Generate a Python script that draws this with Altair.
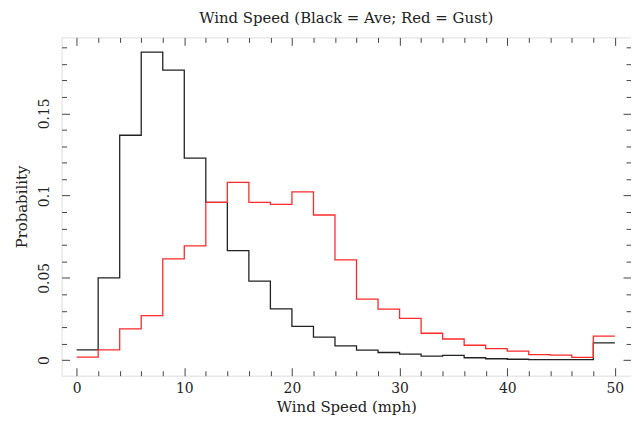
import altair as alt
import pandas as pd

bin_edges = list(range(0, 50, 2))  # 0..48
ave = [0.0062, 0.0500, 0.1367, 0.1872, 0.1763, 0.1228, 0.0959, 0.0665, 0.0480, 0.0311,
       0.0205, 0.0140, 0.0086, 0.0060, 0.0046, 0.0036, 0.0024, 0.0028, 0.0014, 0.0008,
       0.0005, 0.0003, 0.0003, 0.0003, 0.0104]
gust = [0.0018, 0.0062, 0.0190, 0.0270, 0.0615, 0.0694, 0.0959, 0.1080, 0.0959, 0.0947,
        0.1023, 0.0882, 0.0609, 0.0370, 0.0310, 0.0253, 0.0163, 0.0128, 0.0090, 0.0070,
        0.0054, 0.0033, 0.0030, 0.0016, 0.0145]
x_major = [0, 10, 20, 30, 40, 50]
x_minor = [v for v in range(0, 51, 2) if v % 10]
y_major = [0, 0.05, 0.1, 0.15]
y_minor = [round(v * 0.01, 2) for v in range(0, 20) if v % 5]

rows = []
for name, vals in (("Ave", ave), ("Gust", gust)):
    for e, v in zip(bin_edges, vals):
        rows.append({"speed": e, "prob": v, "series": name})
    rows.append({"speed": 50, "prob": vals[-1], "series": name})
df = pd.DataFrame(rows)

W, H = 574, 341
FONT = "DejaVu Serif"
xs = alt.Scale(domain=[-1.4, 51.5], nice=False, zero=False)
ys = alt.Scale(domain=[-0.0095, 0.1962], nice=False, zero=False)

lines = alt.Chart(df).mark_line(interpolate="step-after", strokeWidth=1.3).encode(
    x=alt.X("speed:Q", scale=xs, title="Wind Speed (mph)",
            axis=alt.Axis(values=x_major, ticks=False, tickSize=0, domain=False, grid=False,
                          labelPadding=6, labelFontSize=14, labelFont=FONT,
                          titleFont=FONT, titleFontSize=15, titleFontWeight="normal",
                          titlePadding=4, labelColor="#222", titleColor="#222")),
    y=alt.Y("prob:Q", scale=ys, title="Probability",
            axis=alt.Axis(values=y_major, format="~g", ticks=False, tickSize=0, domain=False,
                          grid=False, labelAngle=-90, labelPadding=10, labelFontSize=14,
                          labelFont=FONT, titleFont=FONT, titleFontSize=15,
                          titleFontWeight="normal", titlePadding=8,
                          labelColor="#222", titleColor="#222")),
    color=alt.Color("series:N", scale=alt.Scale(domain=["Ave", "Gust"], range=["#222222", "#ff2a2a"]),
                    legend=None),
)


def tick_layer(xaxis, yaxis):
    return alt.Chart(df).mark_line(opacity=0).encode(
        x=alt.X("speed:Q", scale=xs, axis=xaxis),
        y=alt.Y("prob:Q", scale=ys, axis=yaxis),
        detail="series:N",
    )


def tax(orient, offset, vals, size):
    return alt.Axis(orient=orient, offset=offset, values=vals, labels=False, title=None,
                    domain=False, grid=False, ticks=True, tickSize=size, tickColor="#444",
                    tickWidth=1)


layers = [lines]
for vals, size in ((x_major, 8), (x_minor, 5)):
    layers.append(tick_layer(tax("top", -H, vals, size), None))
    layers.append(tick_layer(tax("bottom", -H, vals, size), None))
for vals, size in ((y_major, 8), (y_minor, 5)):
    layers.append(tick_layer(None, tax("right", -W, vals, size)))
    layers.append(tick_layer(None, tax("left", -W, vals, size)))

chart = alt.layer(*layers).resolve_axis(x="independent", y="independent").properties(
    width=W, height=H,
    title=alt.TitleParams("Wind Speed (Black = Ave; Red = Gust)", font=FONT, fontSize=15,
                          fontWeight="normal", color="#222", offset=11),
    autosize=alt.AutoSizeParams(type="none"),
    padding={"left": 54, "top": 28, "right": 0, "bottom": 40},
).configure_view(stroke="#444", strokeWidth=1.2).configure(background="white")

chart.save("out.html", embed_options={"renderer": "svg", "actions": False})
